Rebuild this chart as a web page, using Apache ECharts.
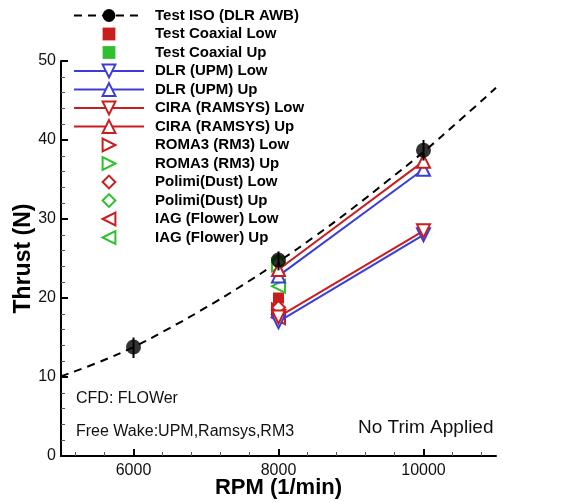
<!DOCTYPE html>
<html>
<head>
<meta charset="utf-8">
<script src="https://cdn.jsdelivr.net/npm/echarts@6/dist/echarts.min.js"></script>
<style>
  html, body { margin: 0; padding: 0; background: #fff; }
  #chart { width: 561px; height: 503px; }
</style>
</head>
<body>
<div id="chart"></div>
<script>
const rpmTicks = [6000, 8000, 10000]
const rpmMinorTicks = [5200, 5600, 6400, 6800, 7200, 7600, 8400, 8800, 9200, 9600, 10400, 10800]

// dashed trend through the test points
const isoCurve = [[5000, 10.1], [5500, 11.8], [6000, 13.8], [6500, 16.2], [7000, 18.8],
  [7500, 21.6], [8000, 24.6], [8500, 27.8], [9000, 31.2], [9500, 34.8],
  [10000, 38.5], [10500, 42.5], [11000, 46.6]]

const isoRpm = [6000, 8000, 10000]
const isoThrust = [13.8, 24.8, 38.7]
const isoLow = [12.4, 23.5, 37.4]
const isoHigh = [15.0, 25.9, 40.0]

const coaxLow = [[8000, 20.0]]
const coaxUp = [[8000, 24.7]]
const dlrLow = [[8000, 17.0], [10000, 28.0]]
const dlrUp = [[8000, 22.8], [10000, 36.3]]
const ciraLow = [[8000, 17.6], [10000, 28.5]]
const ciraUp = [[8000, 23.6], [10000, 37.3]]
const romaLow = [[8000, 18.5]]
const romaUp = [[8000, 24.2]]
const polimiLow = [[8000, 18.8]]
const polimiUp = [[8000, 24.5]]
const iagLow = [[8000, 17.5]]
const iagUp = [[8000, 21.5]]

const RED = '#c81e1e'
const GREEN = '#2ec02e'
const BLUE = '#3c3cd6'
const FONT = "'Liberation Sans', Arial, sans-serif"

// single-point markers: line series without a line so the legend keeps the marker shape
function marker (name, data, symbol, rotate, color, size) {
  return {
    name, type: 'line', data, symbol, symbolRotate: rotate, symbolSize: size || 13,
    lineStyle: { color, width: 0 },
    itemStyle: { color, borderWidth: 2 },
    z: 3
  }
}

function sim (name, data, rotate, color) {
  return {
    name, type: 'line', data, symbol: 'emptyTriangle', symbolRotate: rotate, symbolSize: 13,
    lineStyle: { color, width: 2 },
    itemStyle: { color, borderWidth: 2 },
    z: 4
  }
}

const chart = echarts.init(document.getElementById('chart'))

chart.setOption({
  animation: false,
  textStyle: { fontFamily: FONT },
  grid: { left: 61, right: 65, top: 61, bottom: 47, containLabel: false, outerBoundsMode: 'none' },
  legend: {
    orient: 'vertical', left: 68, top: 3,
    itemWidth: 70, itemHeight: 16, itemGap: 3.5,
    selectedMode: false,
    textStyle: { fontSize: 15, fontWeight: 'bold', color: '#000', lineHeight: 15, padding: [0, 0, 0, 6], fontFamily: FONT },
    data: ['Test ISO (DLR AWB)', 'Test Coaxial Low', 'Test Coaxial Up', 'DLR (UPM) Low', 'DLR (UPM) Up',
      'CIRA (RAMSYS) Low', 'CIRA (RAMSYS) Up', 'ROMA3 (RM3) Low', 'ROMA3 (RM3) Up',
      'Polimi(Dust) Low', 'Polimi(Dust) Up', 'IAG (Flower) Low', 'IAG (Flower) Up']
  },
  xAxis: [
    {
      type: 'value', min: 5000, max: 11000,
      name: 'RPM (1/min)', nameLocation: 'middle', nameGap: 21, nameMoveOverlap: false,
      nameTextStyle: { fontSize: 22, fontWeight: 'bold', color: '#000', fontFamily: FONT },
      axisLine: { lineStyle: { color: '#000', width: 2 } },
      axisTick: { inside: true, length: 7, lineStyle: { color: '#000', width: 2 }, customValues: rpmTicks },
      axisLabel: { fontSize: 16, color: '#111', margin: 7, customValues: rpmTicks, formatter: v => String(v) },
      splitLine: { show: false }
    },
    {
      type: 'value', min: 5000, max: 11000, position: 'bottom', offset: 0,
      axisLine: { show: false },
      axisTick: { show: true, inside: true, length: 4, lineStyle: { color: '#555', width: 1 }, customValues: rpmMinorTicks },
      axisLabel: { show: false, customValues: rpmMinorTicks },
      splitLine: { show: false }
    }
  ],
  yAxis: {
    type: 'value', min: 0, max: 50, interval: 10,
    name: 'Thrust (N)', nameLocation: 'middle', nameGap: 26, nameMoveOverlap: false,
    nameTextStyle: { fontSize: 23, fontWeight: 'bold', color: '#000', fontFamily: FONT },
    axisLine: { show: true, lineStyle: { color: '#000', width: 2 } },
    axisTick: { show: true, inside: true, length: 7, lineStyle: { color: '#000', width: 2 } },
    minorTick: { show: true, splitNumber: 5, length: 4, lineStyle: { color: '#555', width: 1 } },
    axisLabel: { fontSize: 16, color: '#111', margin: 5 },
    splitLine: { show: false }
  },
  graphic: [
    { type: 'text', left: 76, top: 391, style: { text: 'CFD: FLOWer', font: '16px ' + FONT, fill: '#111' } },
    { type: 'text', left: 76, top: 424, style: { text: 'Free Wake:UPM,Ramsys,RM3', font: '16px ' + FONT, fill: '#111' } },
    { type: 'text', left: 358, top: 418, style: { text: 'No Trim Applied', font: '19px ' + FONT, fill: '#111' } }
  ],
  series: [
    {
      name: 'Test ISO (DLR AWB)', type: 'line', data: isoCurve, smooth: true,
      showSymbol: false, symbol: 'circle', silent: true,
      lineStyle: { color: '#000', width: 2, type: [8, 6] },
      itemStyle: { color: '#000' }, z: 1
    },
    marker('Test Coaxial Low', coaxLow, 'rect', 0, RED, 11),
    marker('Test Coaxial Up', coaxUp, 'rect', 0, GREEN, 11),
    sim('DLR (UPM) Low', dlrLow, 180, BLUE),
    sim('DLR (UPM) Up', dlrUp, 0, BLUE),
    sim('CIRA (RAMSYS) Low', ciraLow, 180, RED),
    sim('CIRA (RAMSYS) Up', ciraUp, 0, RED),
    marker('ROMA3 (RM3) Low', romaLow, 'emptyTriangle', -90, RED),
    marker('ROMA3 (RM3) Up', romaUp, 'emptyTriangle', -90, GREEN),
    marker('Polimi(Dust) Low', polimiLow, 'emptyDiamond', 0, RED),
    marker('Polimi(Dust) Up', polimiUp, 'emptyDiamond', 0, GREEN),
    marker('IAG (Flower) Low', iagLow, 'emptyTriangle', 90, RED),
    marker('IAG (Flower) Up', iagUp, 'emptyTriangle', 90, GREEN),
    {
      name: 'Test ISO (DLR AWB)', type: 'custom', z: 5,
      data: isoRpm.map((r, i) => [r, isoLow[i], isoHigh[i]]),
      encode: { x: 0, y: [1, 2] },
      renderItem (params, api) {
        const lo = api.coord([api.value(0), api.value(1)])
        const hi = api.coord([api.value(0), api.value(2)])
        return { type: 'line', shape: { x1: lo[0], y1: lo[1], x2: hi[0], y2: hi[1] }, style: { stroke: '#000', lineWidth: 2 } }
      }
    },
    {
      name: 'Test ISO (DLR AWB)', type: 'scatter', z: 6,
      data: isoRpm.map((r, i) => [r, isoThrust[i]]),
      symbol: 'circle', symbolSize: 15, itemStyle: { color: '#000' }
    }
  ]
})
</script>
</body>
</html>
